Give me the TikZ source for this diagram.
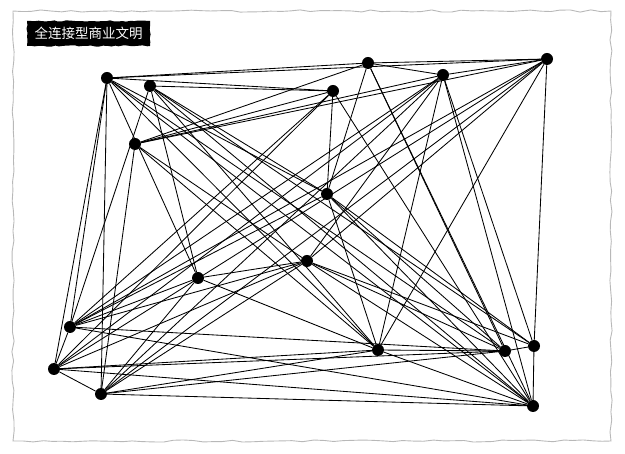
\documentclass[tikz,border=0pt]{standalone}
\usepackage{fontspec}
\newfontfamily\cjk{Noto Sans CJK SC}
\usetikzlibrary{decorations.pathmorphing}

\begin{document}
\begin{tikzpicture}[x=1pt, y=-1pt,
  dot/.style={circle, fill=black, inner sep=0pt, minimum size=12pt},
  link/.style={line width=0.85pt}]
\useasboundingbox (0,0) rectangle (625,454);
\pgfmathsetseed{7}
% torn paper edge
\draw[black!28, line width=0.9pt, decorate,
  decoration={random steps, segment length=10pt, amplitude=1.1pt}]
  (13,11) rectangle (611,441);
% title tag
\fill[decorate, decoration={random steps, segment length=4pt, amplitude=0.7pt}]
  (27,21) rectangle (150,46);
\node[text=white, font=\cjk\fontsize{13.5}{15}\selectfont] (title) at (88.5,33.5) {全连接型商业文明};
% nodes
\foreach \name/\x/\y in {a/107/78, b/150/86, c/135/144, d/368/63, e/333/91,
  f/443/75, g/547/59, h/327/194, i/307/261, j/198/278, k/70/327, l/54/369,
  m/101/394, n/378/350, o/505/351, p/534/346, q/533/406} {
  \node[dot] (\name) at (\x,\y) {};
}
% links
\foreach \s/\t in {a/d, a/g, a/e, a/k, a/l, a/m, a/j, a/h, a/n, a/o, a/q,
  b/j, b/h, b/n, b/k, b/e, b/p, b/q,
  c/d, c/e, c/f, c/g, c/m, c/n, c/i,
  d/g, d/f, d/h, d/q, d/o,
  e/h, e/q, e/k, e/l,
  f/g, f/n, f/q, f/p, f/i, f/k, f/l, f/m,
  g/l, g/k, g/m, g/i, g/n, g/p,
  h/n, h/o, h/q, h/p, h/k,
  i/j, i/m, i/k, i/o, i/q, i/p, i/l,
  j/n, j/k, j/m,
  k/l, k/o, k/q,
  l/m, l/n, l/o, l/q,
  m/n, m/o, m/q,
  n/o, n/q, o/p, p/q} {
  \draw[link] (\s) -- (\t);
}
\end{tikzpicture}
\end{document}
